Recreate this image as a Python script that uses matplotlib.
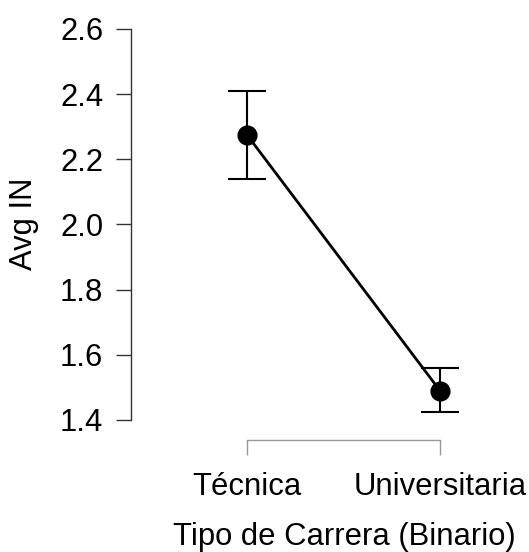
import matplotlib
matplotlib.use("Agg")
import matplotlib.pyplot as plt

plt.rcParams["font.family"] = ["Liberation Sans", "DejaVu Sans"]

# Mean of IN per tipo de carrera, with confidence interval bounds
categories = ["Técnica", "Universitaria"]
means = [2.275, 1.49]
ci_lower = [2.14, 1.425]
ci_upper = [2.41, 1.56]

y_ticks = [1.4, 1.6, 1.8, 2.0, 2.2, 2.4, 2.6]

W, H = 529, 552
fig = plt.figure(figsize=(W / 100, H / 100), dpi=100)

# axes box in pixels: left spine at x=131, top at y=29, bottom spine at y=440
left_px, right_px, top_px, bottom_px = 131, 515, 29, 440
ax = fig.add_axes([left_px / W, 1 - bottom_px / H,
                   (right_px - left_px) / W, (bottom_px - top_px) / H])

x = list(range(len(categories)))
err_lo = [m - lo for m, lo in zip(means, ci_lower)]
err_hi = [hi - m for m, hi in zip(means, ci_upper)]

ax.plot(x, means, color="black", lw=2.0, zorder=2)
ax.errorbar(x, means, yerr=[err_lo, err_hi], fmt="none", ecolor="black",
            elinewidth=1.5, capsize=13.5, capthick=1.5, zorder=3)
ax.plot(x, means, "o", color="black", markersize=13.5, zorder=4)

# pixel mapping: category 0 at x=247, category 1 at x=440; 1.4 at y=420
px_per_cat = 440 - 247
ax.set_xlim(-(247 - left_px) / px_per_cat, 1 + (right_px - 440) / px_per_cat)
px_per_unit = (420 - 29) / 1.2
ax.set_ylim(1.4 - (bottom_px - 420) / px_per_unit, 2.6)

for side in ("top", "right"):
    ax.spines[side].set_visible(False)
ax.spines["left"].set_bounds(1.4, 2.6)
ax.spines["left"].set_color("#333333")
ax.spines["left"].set_linewidth(1.0)
ax.spines["bottom"].set_bounds(0, 1)
ax.spines["bottom"].set_color("#999999")
ax.spines["bottom"].set_linewidth(1.0)

fs = 22.3
ax.set_yticks(y_ticks)
ax.set_yticklabels([f"{v:.1f}" for v in y_ticks])
ax.set_xticks(x)
ax.set_xticklabels(categories)
ax.tick_params(axis="y", length=11, width=1.0, color="#333333",
               labelsize=fs, pad=9)
ax.tick_params(axis="x", length=11, width=1.0, color="#999999",
               labelsize=fs, pad=12)

ax.set_xlabel("Tipo de Carrera (Binario)", fontsize=fs, labelpad=16)
ax.set_ylabel("Avg IN", fontsize=fs, labelpad=14)
ax.xaxis.set_label_coords((344 - left_px) / (right_px - left_px), -0.2)
ax.xaxis.label.set_verticalalignment("top")
ax.yaxis.set_label_coords(-0.24, (bottom_px - 224) / (bottom_px - top_px))

fig.savefig("out.png", dpi=100)
